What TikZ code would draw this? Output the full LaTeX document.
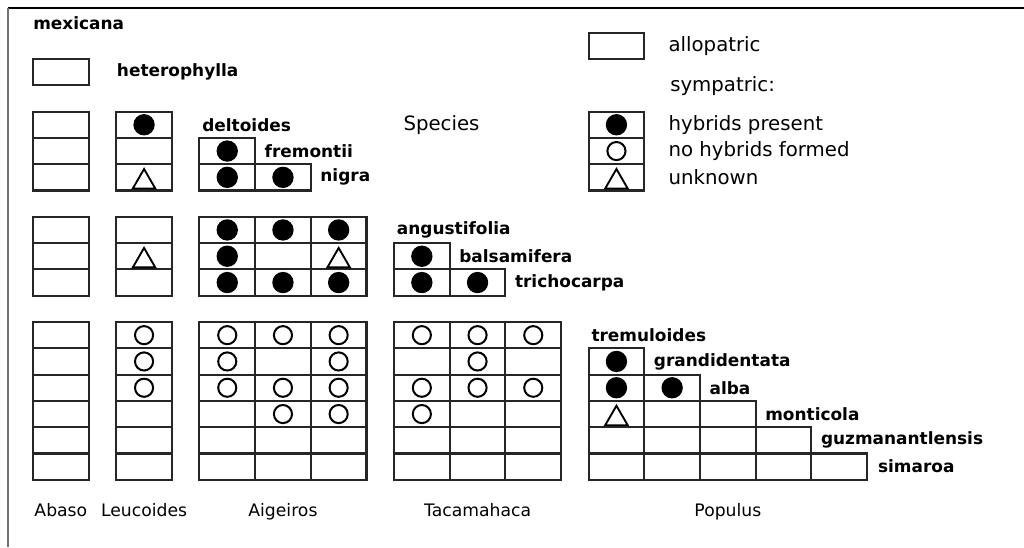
\documentclass[tikz,border=0pt]{standalone}
\usepackage{fontspec}
\setmainfont{DejaVu Sans}
\usetikzlibrary{shapes.geometric,positioning}
\def\colx{{33,116.2,199.4,255.1,310.8,394,449.7,505.4,588.6,644.3,700,755.7,811.4}}
\def\rowy{{0,59,111.6,137.9,164.2,216.8,243.1,269.4,322,348.3,374.6,400.9,427.2,453.5}}

\begin{document}
\begin{tikzpicture}[
        x=0.75pt, y=-0.75pt,
        cell/.style={draw=black!85, line width=1.55pt, rectangle, inner sep=0pt, outer sep=0pt, minimum width=41.8pt, minimum height=19.7pt},
        hyb/.style={circle, fill=black, draw=black, line width=1pt, inner sep=0pt, minimum size=15pt},
        nohyb/.style={circle, draw=black, line width=1.5pt, inner sep=0pt, minimum size=13.6pt},
        unk/.style={regular polygon, regular polygon sides=3, draw=black, line width=1.4pt, inner sep=0pt, minimum size=19.5pt, yshift=-3.5pt},
        species/.style={font=\fontsize{12.7}{14}\selectfont\bfseries, inner sep=0pt, anchor=west},
        legend/.style={font=\fontsize{14.8}{16}\selectfont, inner sep=0pt, anchor=west},
        section/.style={font=\fontsize{12.9}{15}\selectfont, inner sep=0pt, anchor=base},
        ]
      \useasboundingbox (0,0) rectangle (1024,547);
      \draw[line width=1.5pt] (8,8) -- (1024,8);
      \draw[line width=1.5pt, black!55] (8,8) -- (8,547);

      \foreach \i in {1,...,13}{
        \pgfmathtruncatemacro{\last}{\i-1}
        \foreach \j in {0,...,\last}{
          \pgfmathsetmacro{\cx}{\colx[\j]+27.85}
          \pgfmathsetmacro{\cy}{\rowy[\i]+13.15}
          \node[cell] (c-\i-\j) at (\cx,\cy) {};
        }
      }

      \foreach \i/\j in {2/1,3/2,4/2,4/3,5/2,5/3,5/4,6/2,6/5,7/2,7/3,7/4,7/5,7/6,9/8,10/8,10/9}
        \node[hyb] (hyb-\i-\j) at (c-\i-\j) {};
      \foreach \i/\j in {8/1,8/2,8/3,8/4,8/5,8/6,8/7,9/1,9/2,9/4,9/6,10/1,10/2,10/3,10/4,10/5,10/6,10/7,11/3,11/4,11/5}
        \node[nohyb] (nohyb-\i-\j) at (c-\i-\j) {};
      \foreach \i/\j in {4/1,6/1,6/4,11/8}
        \node[unk] (unk-\i-\j) at (c-\i-\j) {};

      \node[species] (mexicana) at (33,23) {mexicana};
      \node[species, right=21pt of c-1-0] (heterophylla) {heterophylla};
      \node[species] (deltoides) at ([xshift=2pt, yshift=9.9pt]c-3-2.north west) {deltoides};
      \node[species, right=7pt of c-3-2] (fremontii) {fremontii};
      \node[species, right=7pt of c-4-3] (nigra) {nigra};
      \node[species] (angustifolia) at ([xshift=2pt, yshift=9.9pt]c-6-5.north west) {angustifolia};
      \node[species, right=7pt of c-6-5] (balsamifera) {balsamifera};
      \node[species, right=7pt of c-7-6] (trichocarpa) {trichocarpa};
      \node[species] (tremuloides) at ([xshift=2pt, yshift=9.9pt]c-9-8.north west) {tremuloides};
      \node[species, right=7pt of c-9-8] (grandidentata) {grandidentata};
      \node[species, right=7pt of c-10-9] (alba) {alba};
      \node[species, right=7pt of c-11-10] (monticola) {monticola};
      \node[species, right=7pt of c-12-11] (guzmanantlensis) {guzmanantlensis};
      \node[species, right=8pt of c-13-12] (simaroa) {simaroa};

      \node[legend, anchor=center] (species) at (441.5,125) {Species};

      \node[cell] (key-allo) at (616.45,46.2) {};
      \node[legend, right=18pt of key-allo] (allopatric) {allopatric};
      \node[legend] (sympatric) at (670,86) {sympatric:};
      \node[cell] (key-1) at (616.45,124.75) {};
      \node[cell] (key-2) at (616.45,151.05) {};
      \node[cell] (key-3) at (616.45,177.35) {};
      \node[hyb] (key-hyb) at (key-1) {};
      \node[nohyb] (key-nohyb) at (key-2) {};
      \node[unk] (key-unk) at (key-3) {};
      \node[legend, right=18pt of key-1] (present) {hybrids present};
      \node[legend, right=18pt of key-2] (formed) {no hybrids formed};
      \node[legend, right=18pt of key-3] (unknown) {unknown};

      \coordinate (base) at (0,516);
      \node[section] (abaso) at (c-13-0 |- base) {Abaso};
      \node[section] (leucoides) at (c-13-1 |- base) {Leucoides};
      \node[section] (aigeiros) at (c-13-3 |- base) {Aigeiros};
      \node[section] (tacamahaca) at (c-13-6 |- base) {Tacamahaca};
      \node[section] (populus) at (c-13-10 |- base) {Populus};
    \end{tikzpicture}
\end{document}
